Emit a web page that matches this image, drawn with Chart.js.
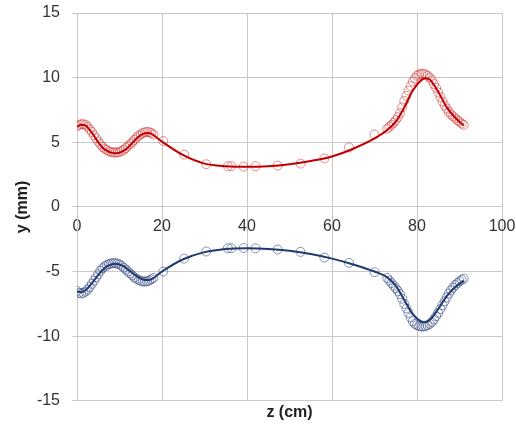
<!DOCTYPE html>
<html><head><meta charset="utf-8">
<script src="https://cdn.jsdelivr.net/npm/chart.js@4/dist/chart.umd.min.js"></script>
<style>html,body{margin:0;padding:0;background:#fff}#wrap{width:516px;height:425px}</style>
</head><body><div id="wrap"><canvas id="c"></canvas></div>
<script>
// measured points (z in cm, y in mm)
const redZ = [0,0.5,1,1.5,2,2.5,3,3.5,4,4.5,5,5.5,6,6.5,7,7.5,8,8.5,9,9.5,10,10.5,11,11.5,12,12.5,13,13.5,14,14.5,15,15.5,16,16.5,17,17.5,18,
  20.3,25.2,30.4,35.5,36.3,39.2,42.0,47.2,52.6,58.2,64.0,70.0,
  73,73.5,74,74.5,75,75.5,76,76.5,77,77.5,78,78.5,79,79.5,80,80.5,81,81.5,82,82.5,83,83.5,84,84.5,85,85.5,86,86.5,87,87.5,88,88.5,89,89.5,90,90.5,91];
const redY = [6.25,6.35,6.4,6.4,6.35,6.2,6.0,5.8,5.55,5.3,5.05,4.85,4.65,4.5,4.4,4.3,4.25,4.22,4.2,4.22,4.25,4.32,4.42,4.55,4.7,4.85,5.0,5.18,5.35,5.5,5.62,5.72,5.78,5.8,5.78,5.72,5.6,
  5.1,4.05,3.3,3.15,3.15,3.12,3.15,3.2,3.35,3.75,4.6,5.6,
  6.05,6.2,6.35,6.5,6.7,6.95,7.25,7.7,8.2,8.6,9.0,9.35,9.7,9.95,10.15,10.25,10.3,10.3,10.25,10.15,10.0,9.8,9.5,9.2,8.85,8.5,8.15,7.85,7.6,7.35,7.15,7.0,6.85,6.7,6.6,6.45,6.35];
const blueZ = redZ.slice();
const blueY = [-6.5,-6.65,-6.7,-6.65,-6.55,-6.4,-6.2,-5.95,-5.7,-5.45,-5.2,-4.95,-4.75,-4.6,-4.5,-4.42,-4.38,-4.35,-4.35,-4.38,-4.45,-4.55,-4.7,-4.85,-5.0,-5.15,-5.3,-5.45,-5.57,-5.65,-5.72,-5.77,-5.78,-5.75,-5.7,-5.6,-5.5,
  -5.0,-4.0,-3.45,-3.2,-3.2,-3.18,-3.2,-3.3,-3.48,-3.92,-4.33,-5.05,
  -5.5,-5.7,-5.9,-6.1,-6.3,-6.5,-6.75,-7.1,-7.5,-7.85,-8.2,-8.55,-8.85,-9.05,-9.15,-9.22,-9.25,-9.25,-9.22,-9.15,-9.05,-8.9,-8.7,-8.45,-8.2,-7.9,-7.6,-7.3,-7.0,-6.7,-6.45,-6.25,-6.05,-5.9,-5.75,-5.65,-5.55];
// fitted curves
const fitZ = [0,1,2,3,4,5,6,7,8,9,10,11,12,13,14,15,16,17,18,20,25,30,35,40,45,50,55,60,65,70,73,75,77,79,81,82,83,85,87,89,91];
const redFit = [6.2,6.35,6.3,5.95,5.5,5.0,4.6,4.35,4.2,4.15,4.2,4.35,4.6,4.95,5.3,5.55,5.7,5.72,5.55,5.05,4.0,3.35,3.15,3.1,3.15,3.3,3.55,3.9,4.5,5.3,5.95,6.6,7.7,9.0,9.8,9.95,9.85,8.9,7.7,6.9,6.3];
const blueFit = [-6.55,-6.6,-6.45,-6.1,-5.7,-5.25,-4.9,-4.6,-4.45,-4.4,-4.45,-4.6,-4.85,-5.1,-5.35,-5.55,-5.65,-5.65,-5.5,-5.0,-4.05,-3.5,-3.25,-3.2,-3.25,-3.4,-3.65,-4.0,-4.45,-5.0,-5.45,-6.1,-7.2,-8.3,-8.85,-8.9,-8.75,-7.9,-6.9,-6.2,-5.7];
const xTicks = [0,20,40,60,80,100];
const yTicks = [-15,-10,-5,0,5,10,15];

const pts = (xs, ys) => xs.map((x, i) => ({x: x, y: ys[i]}));
const RED = '#c00000', BLUE = '#1f3a6e';
const GRID = '#c8c8c8';
const FONT = "'Liberation Sans', Arial, sans-serif";
Chart.defaults.font.family = FONT;
const noPad = s => { s.paddingTop = 0; s.paddingBottom = 0; s.paddingLeft = 0; s.paddingRight = 0; };

new Chart(document.getElementById('c'), {
  type: 'scatter',
  data: { datasets: [
    {data: pts(fitZ, redFit), showLine: true, borderColor: RED, borderWidth: 2, pointRadius: 0, cubicInterpolationMode: 'monotone', order: 0},
    {data: pts(fitZ, blueFit), showLine: true, borderColor: BLUE, borderWidth: 2, pointRadius: 0, cubicInterpolationMode: 'monotone', order: 0},
    {data: pts(redZ, redY), showLine: false, pointRadius: 4.5, pointBorderWidth: 1, pointBorderColor: 'rgba(205,50,50,0.55)', pointBackgroundColor: 'rgba(0,0,0,0)', order: 1},
    {data: pts(blueZ, blueY), showLine: false, pointRadius: 4.5, pointBorderWidth: 1, pointBorderColor: 'rgba(40,60,120,0.55)', pointBackgroundColor: 'rgba(0,0,0,0)', order: 1}
  ]},
  options: {
    responsive: true, maintainAspectRatio: false, animation: false,
    layout: {padding: {top: 13, right: 14, bottom: 0, left: 0}},
    plugins: {legend: {display: false}, tooltip: {enabled: false}},
    scales: {
      x: {
        type: 'linear', position: {y: 0}, min: 0, max: 100,
        afterBuildTicks: s => { s.ticks = xTicks.map(v => ({value: v})); },
        afterFit: noPad,
        grid: {color: GRID, drawTicks: false},
        border: {color: GRID},
        ticks: {color: '#333', font: {size: 16}, padding: 10, maxRotation: 0}
      },
      x2: {
        type: 'linear', position: 'bottom', min: 0, max: 100,
        afterFit: noPad,
        grid: {display: false, drawTicks: false}, border: {display: false},
        ticks: {display: false},
        title: {display: true, text: 'z (cm)', color: '#222', font: {size: 16, weight: 'bold'}, padding: {top: 2, bottom: 3}}
      },
      y: {
        type: 'linear', min: -15, max: 15,
        afterBuildTicks: s => { s.ticks = yTicks.map(v => ({value: v})); },
        afterFit: s => { s.width = 77; noPad(s); },
        grid: {color: GRID, tickLength: 5},
        border: {color: GRID},
        ticks: {color: '#333', font: {size: 16}, padding: 12},
        title: {display: true, text: 'y (mm)', color: '#222', font: {size: 16, weight: 'bold'}, padding: {top: 13, bottom: 0}}
      }
    }
  }
});
</script>
</body></html>
